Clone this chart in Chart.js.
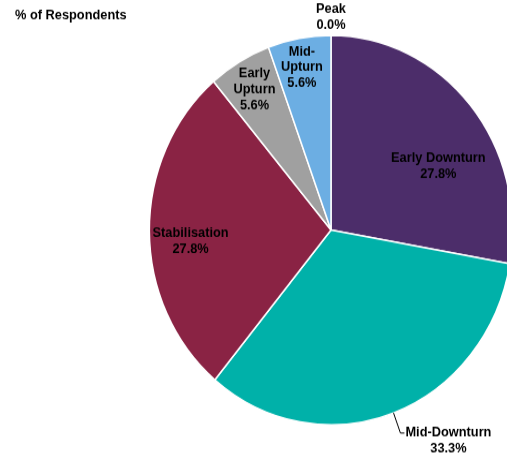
<!DOCTYPE html>
<html>
<head>
<meta charset="utf-8">
<script src="https://cdn.jsdelivr.net/npm/chart.js@4.4.1/dist/chart.umd.min.js"></script>
<style>
  html, body { margin: 0; padding: 0; background: #fff; overflow: hidden; width: 507px; height: 461px; }
  #wrap { position: absolute; left: 0; top: 0; width: 662px; height: 430px;
          transform: scaleY(1.0721); transform-origin: 0 0; }
</style>
</head>
<body>
<div id="wrap"><canvas id="c"></canvas></div>
<script>
// Survey: which phase of the cycle respondents think the market is in
const phases = ['Early Downturn', 'Mid-Downturn', 'Stabilisation', 'Early Upturn', 'Mid-Upturn', 'Peak'];
const shares = [27.8, 33.3, 27.8, 5.6, 5.6, 0.0];
const phaseLines = [['Early Downturn'], ['Mid-Downturn'], ['Stabilisation'], ['Early', 'Upturn'], ['Mid-', 'Upturn'], ['Peak']];
const sliceColours = ['#4c2d6a', '#00b1a9', '#8a2344', '#a0a0a0', '#6caee3', '#e0e0e0'];

// where each label sits, relative to its slice (angle shift in degrees, fraction of radius)
const labelSpots = [
  { shift: 10.8, frac: 0.677 },
  { shift: 0, frac: 1.11, leader: true },
  { shift: -3.8, frac: 0.775 },
  { shift: 0, frac: 0.837 },
  { shift: -0.8, frac: 0.85 },
  { shift: 0, frac: 1.093 }
];

const FONT = 'bold 12.8px "Liberation Sans", Arial, sans-serif';
const LINE = 14.9;

const sliceLabels = {
  id: 'sliceLabels',
  afterDatasetsDraw(chart) {
    const ctx = chart.ctx;
    const meta = chart.getDatasetMeta(0);
    ctx.save();
    ctx.font = FONT;
    ctx.fillStyle = '#000';
    ctx.textBaseline = 'middle';

    // heading
    ctx.textAlign = 'left';
    ctx.fillText('% of Respondents', 15, 14);

    meta.data.forEach((arc, i) => {
      const p = arc.getProps(['x', 'y', 'startAngle', 'endAngle', 'outerRadius'], true);
      const spot = labelSpots[i];
      const mid = (p.startAngle + p.endAngle) / 2 + spot.shift * Math.PI / 180;
      const lines = phaseLines[i].concat([shares[i].toFixed(1) + '%']);
      if (spot.leader) {
        const x0 = p.x + Math.cos(mid) * p.outerRadius;
        const y0 = p.y + Math.sin(mid) * p.outerRadius;
        const x1 = p.x + Math.cos(mid) * p.outerRadius * spot.frac;
        const y1 = p.y + Math.sin(mid) * p.outerRadius * spot.frac;
        ctx.strokeStyle = '#000';
        ctx.lineWidth = 1;
        ctx.beginPath();
        ctx.moveTo(x0, y0);
        ctx.lineTo(x1, y1);
        ctx.lineTo(x1 + 4, y1);
        ctx.stroke();
        const w = ctx.measureText(lines[0]).width;
        const cx = x1 + 5 + w / 2;
        ctx.textAlign = 'center';
        lines.forEach((t, k) => ctx.fillText(t, cx, y1 + k * LINE));
      } else {
        const cx = p.x + Math.cos(mid) * p.outerRadius * spot.frac;
        const cy = p.y + Math.sin(mid) * p.outerRadius * spot.frac;
        const top = cy - (lines.length - 1) * LINE / 2;
        ctx.textAlign = 'center';
        lines.forEach((t, k) => ctx.fillText(t, cx, top + k * LINE));
      }
    });
    ctx.restore();
  }
};

new Chart(document.getElementById('c'), {
  type: 'pie',
  data: {
    labels: phases,
    datasets: [{
      data: shares,
      backgroundColor: sliceColours,
      borderColor: '#ffffff',
      borderWidth: 1.5
    }]
  },
  options: {
    responsive: true,
    maintainAspectRatio: false,
    animation: false,
    layout: { padding: { top: 32.2, bottom: 33, left: 0, right: 0 } },
    plugins: {
      legend: { display: false },
      tooltip: { enabled: false },
      title: { display: false }
    }
  },
  plugins: [sliceLabels]
});
</script>
</body>
</html>
